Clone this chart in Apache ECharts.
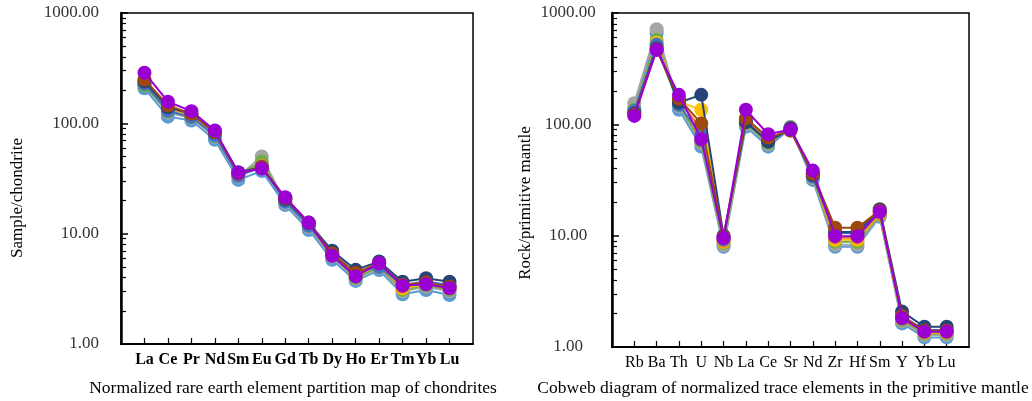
<!DOCTYPE html>
<html>
<head>
<meta charset="utf-8">
<script src="https://cdn.jsdelivr.net/npm/echarts@6/dist/echarts.min.js"></script>
<style>
  html, body { margin: 0; padding: 0; background: #fff; }
  #main { width: 1032px; height: 401px; }
</style>
</head>
<body>
<div id="main"></div>
<script>
const reeCats = ['La', 'Ce', 'Pr', 'Nd', 'Sm', 'Eu', 'Gd', 'Tb', 'Dy', 'Ho', 'Er', 'Tm', 'Yb', 'Lu']
const traceCats = ['Rb', 'Ba', 'Th', 'U', 'Nb', 'La', 'Ce', 'Sr', 'Nd', 'Zr', 'Hf', 'Sm', 'Y', 'Yb', 'Lu']

const majorTicks = [1, 10, 100, 1000]
const minorTicks = [2, 3, 4, 5, 6, 7, 8, 9, 20, 30, 40, 50, 60, 70, 80, 90, 200, 300, 400, 500, 600, 700, 800, 900]

const colors = ['#5B9BD5', '#A5A5A5', '#70AD47', '#FFC000', '#ED7D31', '#4472C4', '#264478', '#9E480E', '#9B00D3']

// chondrite-normalized REE, one row per sample
const reeLightBlue = [208, 115, 106, 71, 30.7, 37, 18.2, 10.8, 5.8, 3.73, 4.68, 2.82, 3.08, 2.78]
const reeGrey = [225, 125, 112, 76, 33, 50, 19, 11.5, 6.2, 3.9, 4.9, 3.0, 3.3, 3.0]
const reeGreen = [220, 128, 114, 77, 34, 45, 19.5, 11.8, 6.3, 4.0, 5.0, 3.1, 3.4, 3.1]
const reeGold = [230, 132, 116, 79, 34, 40, 20, 12, 6.4, 4.2, 5.1, 3.2, 3.5, 3.2]
const reeOrange = [240, 138, 120, 82, 35, 41, 20.5, 12.2, 6.5, 4.3, 5.2, 3.3, 3.6, 3.3]
const reeBlue = [228, 130, 114, 78, 33.5, 40, 19.5, 11.8, 6.6, 4.4, 5.0, 3.4, 3.7, 3.4]
const reeNavy = [239, 140, 122, 83, 36, 40, 20.5, 12.5, 7.0, 4.7, 5.6, 3.67, 3.94, 3.67]
const reeBrown = [250, 145, 122, 84, 35, 40, 21, 12.6, 6.6, 4.4, 5.4, 3.45, 3.6, 3.3]
const reePurple = [288, 157, 129, 86, 35.7, 39, 21.4, 12.6, 6.3, 4.1, 5.4, 3.38, 3.48, 3.2]

// primitive-mantle normalized trace elements
const trLightBlue = [140, 658, 135, 63, 7.96, 95, 63, 92, 31.7, 7.96, 7.96, 14.8, 1.63, 1.22, 1.22]
const trGrey = [155, 715, 145, 68, 8.2, 100, 66, 95, 33, 8.3, 8.3, 15.2, 1.7, 1.28, 1.28]
const trGreen = [135, 573, 150, 70, 8.6, 103, 68, 93, 34, 8.8, 8.8, 15.5, 1.75, 1.32, 1.32]
const trGold = [130, 540, 160, 135, 8.8, 108, 72, 90, 35, 9.2, 9.2, 15.8, 1.8, 1.35, 1.35]
const trOrange = [128, 500, 165, 90, 9.0, 110, 74, 88, 36, 9.6, 9.6, 16, 1.85, 1.38, 1.38]
const trBlue = [132, 520, 150, 80, 9.3, 105, 70, 90, 34, 10.5, 10.5, 16.5, 1.9, 1.42, 1.42]
const trNavy = [125, 480, 157, 184, 10, 105, 70, 92, 35, 10.8, 10.8, 17.3, 2.08, 1.52, 1.52]
const trBrown = [122, 470, 170, 102, 9.8, 113, 76, 88, 36, 11.8, 11.8, 16.8, 1.9, 1.4, 1.4]
const trPurple = [119, 466, 184, 73.5, 9.5, 135, 81.5, 90, 38.4, 9.9, 9.9, 16.4, 1.81, 1.37, 1.37]

const reeRows = [reeLightBlue, reeGrey, reeGreen, reeGold, reeOrange, reeBlue, reeNavy, reeBrown, reePurple]
const trRows = [trLightBlue, trGrey, trGreen, trGold, trOrange, trBlue, trNavy, trBrown, trPurple]

const font = 'Liberation Serif'

function xAxisFor (idx, cats, bold) {
  const idxs = cats.map((c, i) => i)
  return {
    type: 'value',
    gridIndex: idx,
    min: -1,
    max: cats.length,
    interval: 1,
    axisLine: { onZero: false, lineStyle: { color: '#000', width: 2 } },
    axisTick: { inside: true, length: 6, customValues: idxs, lineStyle: { color: '#000', width: 1.2 } },
    axisLabel: {
      customValues: idxs,
      formatter: v => cats[v] || '',
      color: '#000',
      fontFamily: font,
      fontSize: 16,
      fontWeight: bold ? 'bold' : 'normal',
      margin: 8
    },
    splitLine: { show: false }
  }
}

function yAxesFor (idx, align, margin) {
  return [
    {
      type: 'log',
      logBase: 10,
      gridIndex: idx,
      min: 1,
      max: 1000,
      position: 'left',
      axisLine: { show: true, onZero: false, lineStyle: { color: '#000', width: 2.5 } },
      axisTick: { inside: true, length: 7, customValues: majorTicks, lineStyle: { color: '#000', width: 1.5 } },
      axisLabel: {
        customValues: majorTicks,
        formatter: v => Number(v).toFixed(2),
        color: '#333',
        fontFamily: font,
        fontSize: 17,
        align: align,
        margin: margin
      },
      splitLine: { show: false }
    },
    {
      type: 'log',
      logBase: 10,
      gridIndex: idx,
      min: 1,
      max: 1000,
      position: 'left',
      axisLine: { show: false, onZero: false },
      axisTick: { inside: true, length: 5, customValues: minorTicks, lineStyle: { color: '#000', width: 1.2 } },
      axisLabel: { show: false },
      splitLine: { show: false }
    }
  ]
}

function seriesFor (rows, idx) {
  return rows.map((row, k) => ({
    type: 'line',
    xAxisIndex: idx,
    yAxisIndex: idx * 2,
    data: row.map((v, i) => [i, v]),
    symbol: 'circle',
    symbolSize: 14,
    color: colors[k],
    lineStyle: { width: 2, color: colors[k] },
    itemStyle: { color: colors[k] },
    z: 2 + k,
    animation: false
  }))
}

const chart = echarts.init(document.getElementById('main'))
const option = {
  animation: false,
  grid: [
    { left: 121, top: 13, width: 352, height: 331, show: true, borderColor: '#000', borderWidth: 1.5, backgroundColor: '#fff' },
    { left: 612, top: 13, width: 357, height: 334, show: true, borderColor: '#000', borderWidth: 1.5, backgroundColor: '#fff' }
  ],
  xAxis: [xAxisFor(0, reeCats, true), xAxisFor(1, traceCats, false)],
  yAxis: yAxesFor(0, 'right', 22).concat(yAxesFor(1, 'center', 44)),
  series: seriesFor(reeRows, 0).concat(seriesFor(trRows, 1)),
  graphic: [
    { type: 'text', x: 18, y: 198, rotation: Math.PI / 2, style: { text: 'Sample/chondrite', font: '17px "Liberation Serif"', fill: '#000', align: 'center', verticalAlign: 'middle' } },
    { type: 'text', x: 526, y: 203, rotation: Math.PI / 2, style: { text: 'Rock/primitive mantle', font: '17px "Liberation Serif"', fill: '#000', align: 'center', verticalAlign: 'middle' } },
    { type: 'text', x: 293, y: 388, style: { text: 'Normalized rare earth element partition map of chondrites', font: '17.5px "Liberation Serif"', fill: '#000', align: 'center', verticalAlign: 'middle' } },
    { type: 'text', x: 783, y: 388, style: { text: 'Cobweb diagram of normalized trace elements in the primitive mantle', font: '17.5px "Liberation Serif"', fill: '#000', align: 'center', verticalAlign: 'middle' } }
  ]
}
chart.setOption(option)
</script>
</body>
</html>
